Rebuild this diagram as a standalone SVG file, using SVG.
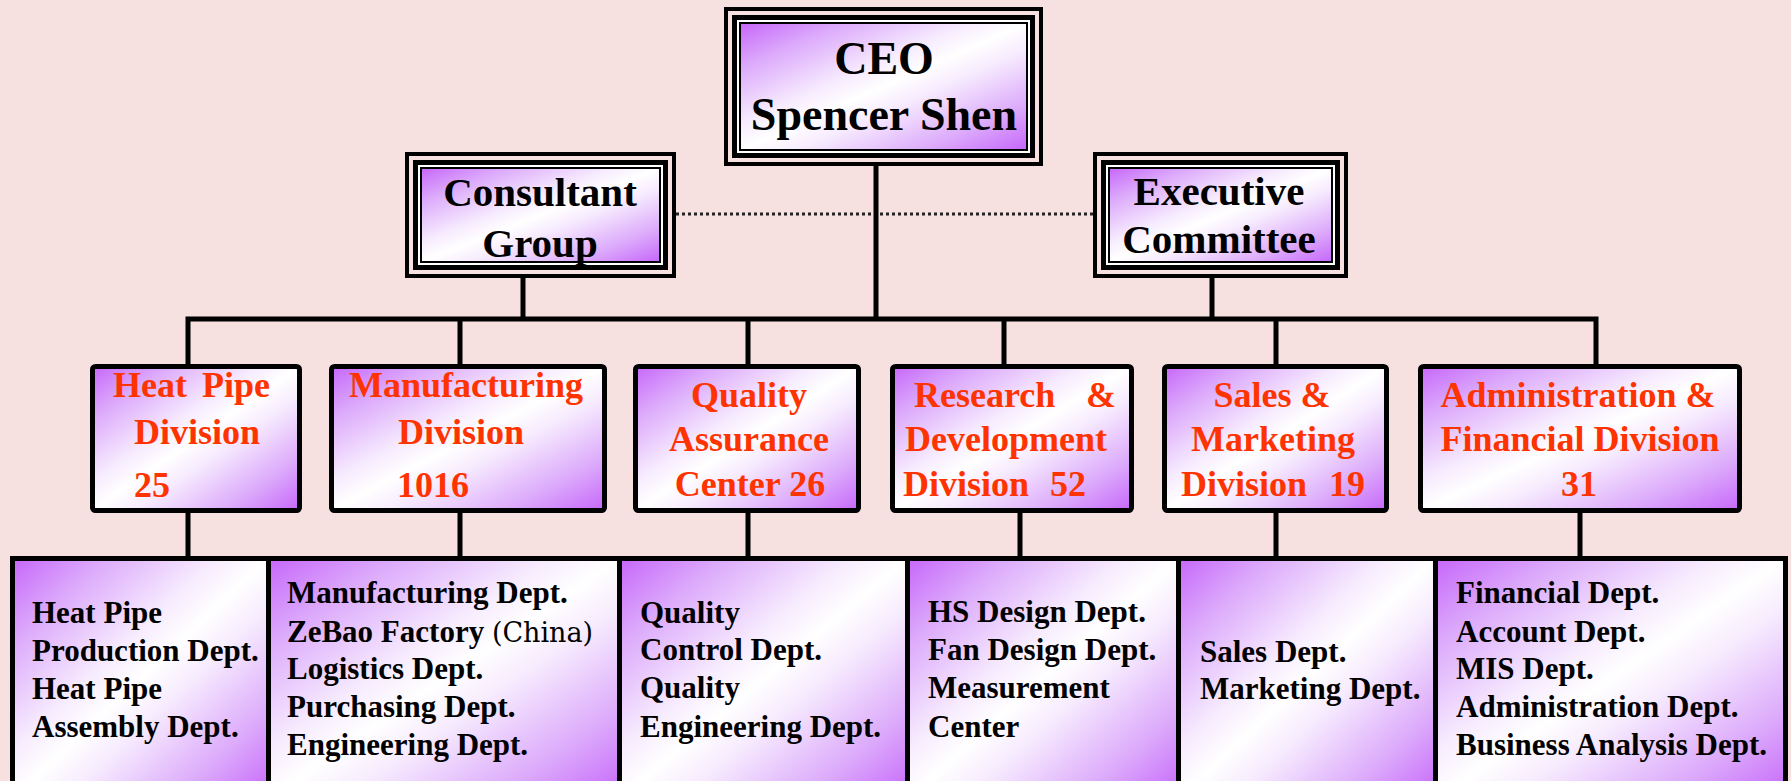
<svg xmlns="http://www.w3.org/2000/svg" width="1791" height="781" viewBox="0 0 1791 781">
  <defs>
    <linearGradient id="fillPurple" x1="0" y1="0" x2="1" y2="1">
      <stop offset="0" stop-color="#c666fa"/>
      <stop offset="0.18" stop-color="#dcaafb"/>
      <stop offset="0.4" stop-color="#f7ecfe"/>
      <stop offset="0.5" stop-color="#ffffff"/>
      <stop offset="0.6" stop-color="#f7ecfe"/>
      <stop offset="0.82" stop-color="#dcaafb"/>
      <stop offset="1" stop-color="#c666fa"/>
    </linearGradient>
    <style>
      .txt { font-family: "Liberation Serif", "Times New Roman", serif; font-weight: bold; }
      .exec { font-size: 46px; fill: #000; text-anchor: middle; }
      .staff { font-size: 41px; fill: #000; text-anchor: middle; }
      .div { font-size: 36px; fill: #ff3300; text-anchor: middle; }
      .dept { font-size: 31px; fill: #000; }
      .outer { fill: #f7e1e0; stroke: #000; stroke-width: 4; }
      .middle { fill: #ffffff; stroke: #000; stroke-width: 5; }
      .inner { fill: url(#fillPurple); stroke: #000; stroke-width: 2; }
      .box { fill: url(#fillPurple); stroke: #000; stroke-width: 5; }
      .line { fill: none; stroke: #000; stroke-width: 5; stroke-linejoin: miter; }
      .dotted { fill: none; stroke: #222; stroke-width: 3; stroke-dasharray: 3 3; }
    </style>
  </defs>

  <!-- background -->
  <rect x="0" y="0" width="1791" height="781" fill="#f7e1e0"/>

  <!-- connectors -->
  <g id="connectors">
    <path class="dotted" d="M676,214 H1093"/>
    <path class="line" d="M876,166 V319"/>
    <path class="line" d="M523,278 V319"/>
    <path class="line" d="M1212,278 V319"/>
    <path class="line" d="M188,366 V319 H1596 V366"/>
    <path class="line" d="M460,319 V366"/>
    <path class="line" d="M748,319 V366"/>
    <path class="line" d="M1004,319 V366"/>
    <path class="line" d="M1276,319 V366"/>
    <path class="line" d="M188,511 V557"/>
    <path class="line" d="M460,511 V557"/>
    <path class="line" d="M748,511 V557"/>
    <path class="line" d="M1020,511 V557"/>
    <path class="line" d="M1276,511 V557"/>
    <path class="line" d="M1580,511 V557"/>
  </g>

  <!-- top level -->
  <g id="ceo">
    <rect class="outer" x="726" y="9" width="315" height="155"/>
    <rect class="middle" x="734.5" y="17.5" width="298" height="138"/>
    <rect class="inner" x="740" y="23" width="287" height="127"/>
    <text class="txt exec" x="884" y="74">CEO</text>
    <text class="txt exec" x="884" y="130">Spencer Shen</text>
  </g>

  <g id="consultant-group">
    <rect class="outer" x="407" y="154" width="267" height="122"/>
    <rect class="middle" x="415.5" y="162.5" width="250" height="105"/>
    <rect class="inner" x="421" y="168" width="239" height="94"/>
    <text class="txt staff" x="540" y="206">Consultant</text>
    <text class="txt staff" x="540" y="257">Group</text>
  </g>

  <g id="executive-committee">
    <rect class="outer" x="1095" y="154" width="251" height="122"/>
    <rect class="middle" x="1103.5" y="162.5" width="234" height="105"/>
    <rect class="inner" x="1109" y="168" width="223" height="94"/>
    <text class="txt staff" x="1219" y="205">Executive</text>
    <text class="txt staff" x="1219" y="253">Committee</text>
  </g>

  <!-- divisions -->
  <g id="div-heat-pipe">
    <rect class="box" x="92.5" y="366.5" width="207" height="144" rx="3"/>
    <text class="txt div" x="113" y="397" style="text-anchor:start">Heat<tspan x="202">Pipe</tspan></text>
    <text class="txt div" x="134" y="444" style="text-anchor:start">Division</text>
    <text class="txt div" x="134" y="497" style="text-anchor:start">25</text>
  </g>

  <g id="div-manufacturing">
    <rect class="box" x="331.5" y="366.5" width="273" height="144" rx="3"/>
    <text class="txt div" x="466" y="397">Manufacturing</text>
    <text class="txt div" x="461" y="444">Division</text>
    <text class="txt div" x="397" y="497" style="text-anchor:start">1016</text>
  </g>

  <g id="div-quality">
    <rect class="box" x="635.5" y="366.5" width="223" height="144" rx="3"/>
    <text class="txt div" x="749" y="407">Quality</text>
    <text class="txt div" x="749" y="451">Assurance</text>
    <text class="txt div" x="750" y="496">Center 26</text>
  </g>

  <g id="div-rd">
    <rect class="box" x="892.5" y="366.5" width="239" height="144" rx="3"/>
    <text class="txt div" x="914" y="407" style="text-anchor:start">Research<tspan x="1086">&amp;</tspan></text>
    <text class="txt div" x="1006" y="451">Development</text>
    <text class="txt div" x="903" y="496" style="text-anchor:start">Division<tspan x="1050">52</tspan></text>
  </g>

  <g id="div-sales">
    <rect class="box" x="1164.5" y="366.5" width="222" height="144" rx="3"/>
    <text class="txt div" x="1272" y="407">Sales &amp;</text>
    <text class="txt div" x="1273" y="451">Marketing</text>
    <text class="txt div" x="1181" y="496" style="text-anchor:start">Division<tspan x="1329">19</tspan></text>
  </g>

  <g id="div-admin">
    <rect class="box" x="1420.5" y="366.5" width="319" height="144" rx="3"/>
    <text class="txt div" x="1578" y="407">Administration &amp;</text>
    <text class="txt div" x="1580" y="451">Financial Division</text>
    <text class="txt div" x="1579" y="496">31</text>
  </g>

  <!-- departments -->
  <g id="dept-heat-pipe">
    <rect class="box" x="12.5" y="558.5" width="256" height="240"/>
    <text class="txt dept" x="32" y="623">Heat Pipe</text>
    <text class="txt dept" x="32" y="661">Production Dept.</text>
    <text class="txt dept" x="32" y="699">Heat Pipe</text>
    <text class="txt dept" x="32" y="737">Assembly Dept.</text>
  </g>

  <g id="dept-manufacturing">
    <rect class="box" x="268.5" y="558.5" width="351" height="240"/>
    <text class="txt dept" x="287" y="603">Manufacturing Dept.</text>
    <text class="txt dept" x="287" y="642">ZeBao Factory <tspan style="font-weight:normal;font-family:'DejaVu Serif','Liberation Serif',serif;font-size:27px">(China)</tspan></text>
    <text class="txt dept" x="287" y="679">Logistics Dept.</text>
    <text class="txt dept" x="287" y="717">Purchasing Dept.</text>
    <text class="txt dept" x="287" y="755">Engineering Dept.</text>
  </g>

  <g id="dept-quality">
    <rect class="box" x="619.5" y="558.5" width="288" height="240"/>
    <text class="txt dept" x="640" y="623">Quality</text>
    <text class="txt dept" x="640" y="660">Control Dept.</text>
    <text class="txt dept" x="640" y="698">Quality</text>
    <text class="txt dept" x="640" y="737">Engineering Dept.</text>
  </g>

  <g id="dept-rd">
    <rect class="box" x="907.5" y="558.5" width="271" height="240"/>
    <text class="txt dept" x="928" y="622">HS Design Dept.</text>
    <text class="txt dept" x="928" y="660">Fan Design Dept.</text>
    <text class="txt dept" x="928" y="698">Measurement</text>
    <text class="txt dept" x="928" y="737">Center</text>
  </g>

  <g id="dept-sales">
    <rect class="box" x="1178.5" y="558.5" width="257" height="240"/>
    <text class="txt dept" x="1200" y="662">Sales Dept.</text>
    <text class="txt dept" x="1200" y="699">Marketing Dept.</text>
  </g>

  <g id="dept-admin">
    <rect class="box" x="1435.5" y="558.5" width="350" height="240"/>
    <text class="txt dept" x="1456" y="603">Financial Dept.</text>
    <text class="txt dept" x="1456" y="642">Account Dept.</text>
    <text class="txt dept" x="1456" y="679">MIS Dept.</text>
    <text class="txt dept" x="1456" y="717">Administration Dept.</text>
    <text class="txt dept" x="1456" y="755">Business Analysis Dept.</text>
  </g>
</svg>
